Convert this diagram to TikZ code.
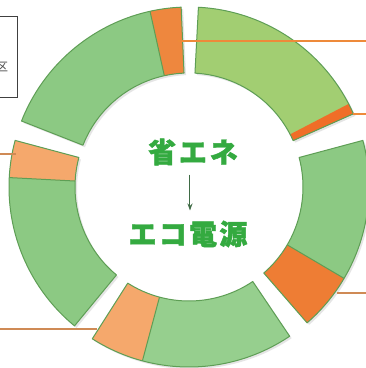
\documentclass[tikz,border=0pt]{standalone}
\usetikzlibrary{arrows.meta}
\usepackage{fontspec}
\newfontfamily\jp{Noto Sans CJK JP}
\definecolor{gA}{HTML}{A2CE72}
\definecolor{gB}{HTML}{8CC983}
\definecolor{gC}{HTML}{96CF8E}
\definecolor{gline}{HTML}{5E9E55}
\definecolor{oA}{HTML}{F06E28}
\definecolor{oB}{HTML}{EE7D34}
\definecolor{oC}{HTML}{F5A86C}
\definecolor{oE}{HTML}{EE873E}
\definecolor{lead}{HTML}{EE8A3A}
\definecolor{leadb}{HTML}{CF8A55}
\definecolor{txtg}{HTML}{34AA40}
\definecolor{arr}{HTML}{3F6B45}
\newcommand\Ro{180}
\newcommand\Ri{114}
\newcommand\ringpart[3]{(#2:\Ro) arc[start angle=#2,end angle=#3,radius=\Ro] -- (#3:\Ri) arc[start angle=#3,end angle=#2,radius=\Ri] -- cycle}
\tikzset{
  segline/.style={draw=gline, line width=1pt, line join=round},
  shadowpart/.style={fill=black!10},
  leader/.style={draw=lead, line width=1.6pt},
  leaderb/.style={draw=leadb, line width=1.6pt},
  bigtxt/.style={text=txtg, font=\jp\bfseries\fontsize{28}{30}\selectfont, inner sep=0pt},
}
\begin{document}
\begin{tikzpicture}[x=1pt,y=1pt]
\useasboundingbox (0,0) rectangle (366,368);
\fill[white] (0,0) rectangle (366,368);
% box at top left
\draw[draw=black!75, line width=1pt] (-5,271) rectangle (18,352);
\node[font=\jp\fontsize{12}{12}\selectfont, text=black!70, inner sep=0pt] (boxtxt) at (2,301) {区};
\begin{scope}[shift={(189,181)}]
  % shadows
  \begin{scope}[shift={(2,-2)}]
    \fill[shadowpart] \ringpart{}{24}{87};
    \fill[shadowpart] \ringpart{}{-49}{15};
    \fill[shadowpart] \ringpart{}{-122.5}{-56};
    \fill[shadowpart] \ringpart{}{165}{230.5};
    \fill[shadowpart] \ringpart{}{92.5}{158.5};
  \end{scope}
  % A top right
  \fill[gA] \ringpart{}{24}{87};
  \fill[oA] \ringpart{}{24}{27.5};
  \draw[segline] \ringpart{}{24}{87};
  % B right
  \fill[gB] \ringpart{}{-49}{15};
  \fill[oB] \ringpart{}{-49}{-30.5};
  \draw[segline] \ringpart{}{-49}{15};
  \draw[segline] (-30.5:\Ri) -- (-30.5:\Ro);
  % C bottom
  \fill[gC] \ringpart{}{-122.5}{-56};
  \fill[oC] \ringpart{}{-122.5}{-105};
  \draw[segline] \ringpart{}{-122.5}{-56};
  \draw[segline] (-105:\Ri) -- (-105:\Ro);
  % D left
  \fill[gB] \ringpart{}{165}{230.5};
  \fill[oC] \ringpart{}{165}{177};
  \draw[segline] \ringpart{}{165}{230.5};
  \draw[segline] (177:\Ri) -- (177:\Ro);
  % E top left
  \fill[gB] \ringpart{}{92.5}{158.5};
  \fill[oE] \ringpart{}{92.5}{102.5};
  \draw[segline] \ringpart{}{92.5}{158.5};
  \draw[segline] (102.5:\Ri) -- (102.5:\Ro);
\end{scope}
% leader lines
\coordinate (e1) at (178,327);
\coordinate (r1) at (366,327);
\coordinate (a1) at (353,254);
\coordinate (r2) at (366,254);
\coordinate (d1) at (16,214);
\coordinate (l1) at (0,214);
\coordinate (c1) at (97,39);
\coordinate (l2) at (0,39);
\coordinate (b1) at (337,75);
\coordinate (r3) at (366,75);
\draw[leader] (e1) -- (r1);
\draw[leader] (a1) -- (r2);
\draw[leaderb] (d1) -- (l1);
\draw[leaderb] (c1) -- (l2);
\draw[leaderb] (b1) -- (r3);
% center text
\node[bigtxt] (t1) at (193,216) {\addfontfeature{LetterSpace=10,FakeBold=1.5}省エネ};
\node[bigtxt] (t2) at (188,134) {\addfontfeature{LetterSpace=8,FakeBold=1.5}エコ電源};
\coordinate (ax) at (190,0);
\draw[arr, line width=1pt, -{Stealth[length=7pt,width=5pt]}, shorten <=9pt, shorten >=10pt] (t1.south -| ax) -- (t2.north -| ax);
\end{tikzpicture}
\end{document}
